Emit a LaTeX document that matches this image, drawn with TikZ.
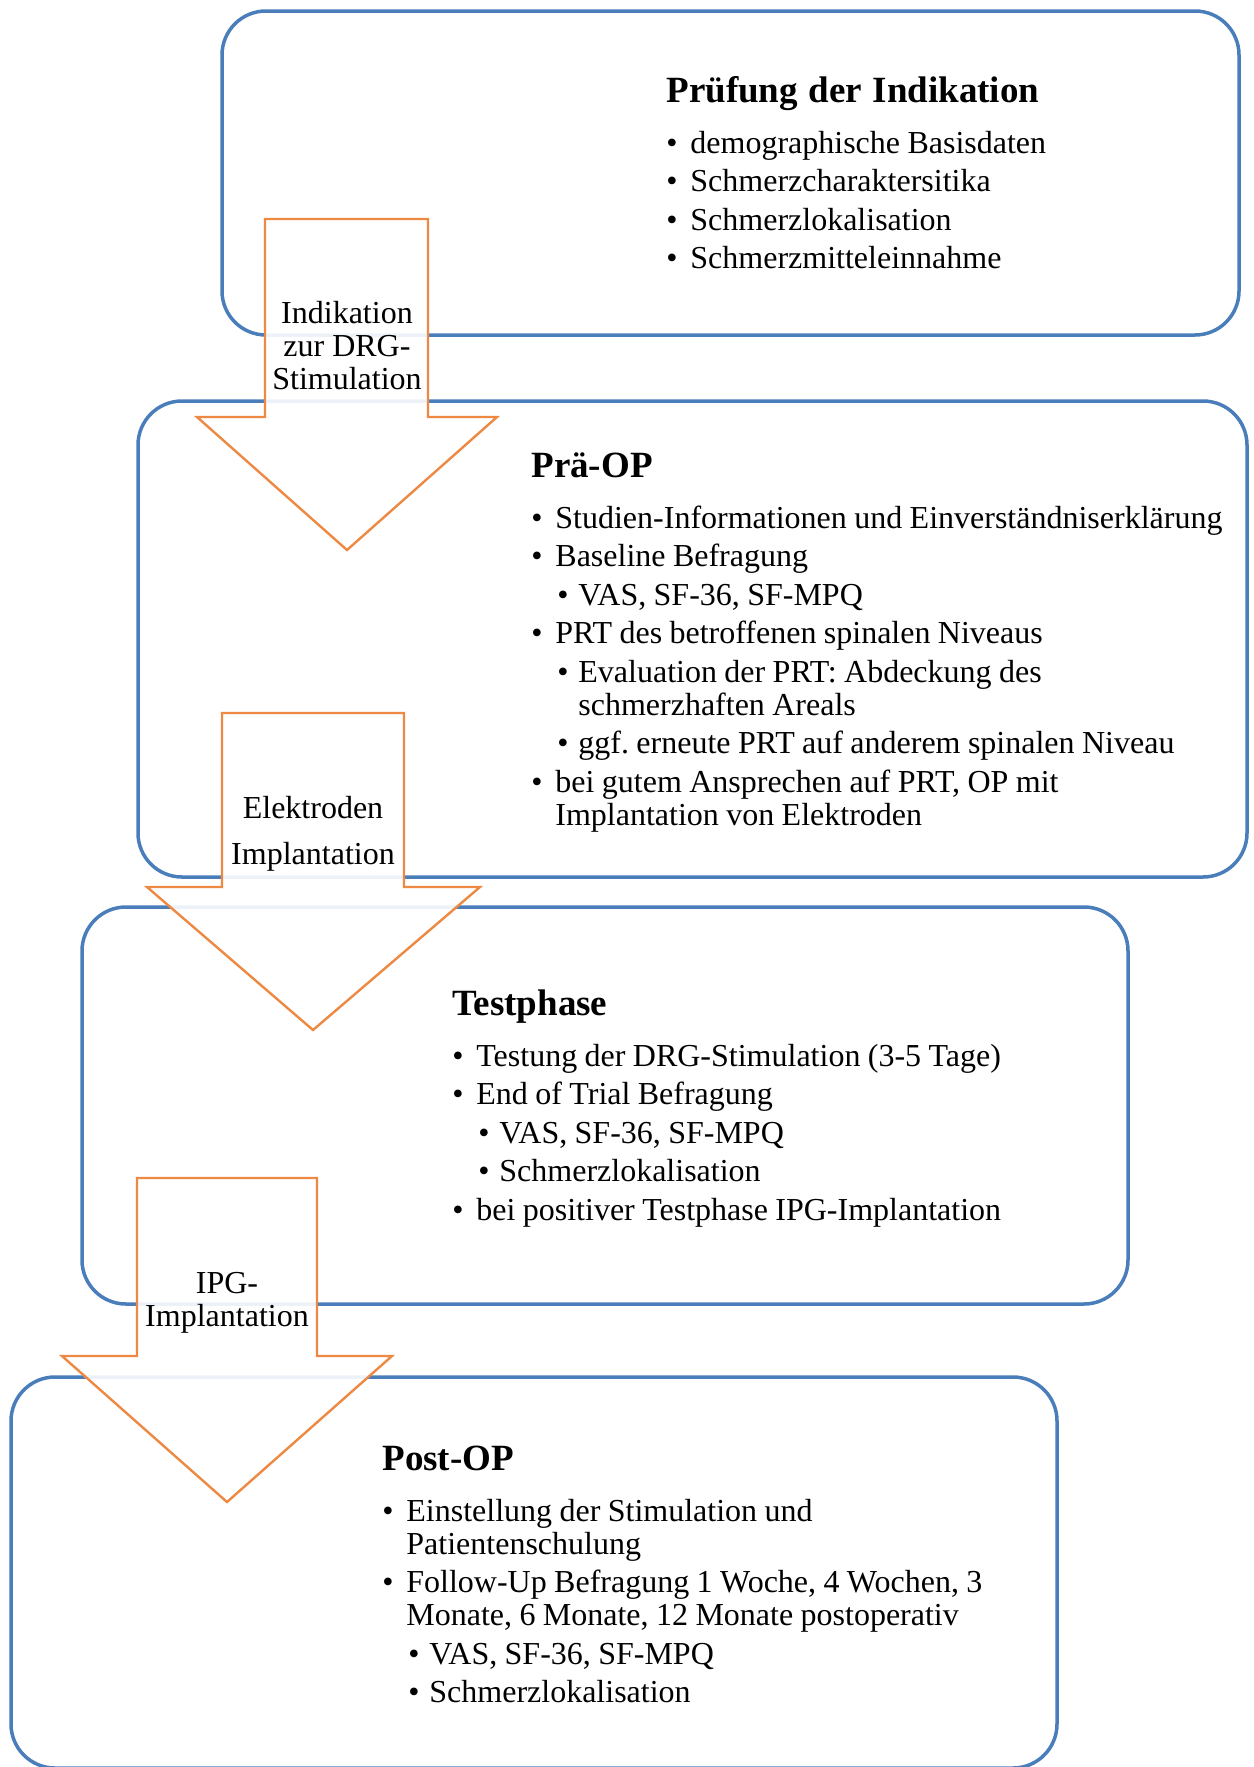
\documentclass[tikz,border=0pt]{standalone}
\usepackage{fontspec}
\setmainfont{Liberation Serif}
\usepackage{enumitem}
\usetikzlibrary{positioning, fit}

\definecolor{boxblue}{RGB}{74,126,187}
\definecolor{arrorange}{RGB}{237,137,66}

\frenchspacing
\setlength{\parindent}{0pt}
\setlength{\parskip}{0pt}
\setlist[itemize,1]{label=\textbullet, leftmargin=12pt, labelwidth=12pt, labelsep=0pt, align=left, topsep=9pt, partopsep=0pt, itemsep=2.75pt, parsep=0pt, before={\spaceskip=3.7pt\relax}}
\setlist[itemize,2]{label=\textbullet, leftmargin=11.5pt, labelwidth=10.5pt, labelsep=0pt, align=left, topsep=2.75pt, partopsep=0pt, itemsep=2.75pt, parsep=0pt, before={\spaceskip=3.7pt\relax}}

\newcommand{\phasetitle}[1]{{\fontsize{18.5pt}{20pt}\selectfont\bfseries #1\par}}
\newcommand{\bodyfont}{\fontsize{16pt}{16.5pt}\selectfont}
% block arrow: shaft left, shaft right, top, head y, head left, head right, tip x, tip y
\newcommand{\flowarrow}[8]{%
    \draw[flow] (#1,#3) -- (#2,#3) -- (#2,#4) -- (#6,#4) -- (#7,#8) -- (#5,#4) -- (#1,#4) -- cycle;}

\begin{document}
\begin{tikzpicture}[x=0.5pt, y=-0.5pt,
    phase/.style={draw=boxblue, line width=1.75pt, rounded corners=22pt, inner sep=0pt},
    flow/.style={draw=arrorange, line width=1.2pt, fill=white, fill opacity=0.9, line join=miter},
    txt/.style={anchor=base west, inner sep=0pt, font=\bodyfont},
    lbl/.style={anchor=base, inner sep=0pt, align=center, font=\bodyfont}
]
    \useasboundingbox (0,0) rectangle (1253,1767);

    % phase boxes
    \node [phase, fit={(222,11) (1239,335)}] (indik) {};
    \node [phase, fit={(138,401) (1247,877)}] (praeop) {};
    \node [phase, fit={(82,907) (1128,1304)}] (test) {};
    \node [phase, fit={(11,1377) (1057,1768)}] (postop) {};

    % box contents
    \node [txt, text width=340pt] (indiktxt) at (666,102) {\phasetitle{Prüfung der Indikation}
        \begin{itemize}
            \item demographische Basisdaten
            \item Schmerzcharaktersitika
            \item Schmerzlokalisation
            \item Schmerzmitteleinnahme
        \end{itemize}};
    \node [txt, text width=360pt] (praeoptxt) at (531,477) {\phasetitle{Prä-OP}
        \begin{itemize}
            \item Studien-Informationen und Einverständniserklärung
            \item Baseline Befragung
            \begin{itemize}
                \item VAS, SF-36, SF-MPQ
            \end{itemize}
            \item PRT des betroffenen spinalen Niveaus
            \begin{itemize}
                \item Evaluation der PRT: Abdeckung des\\schmerzhaften Areals
                \item ggf. erneute PRT auf anderem spinalen Niveau
            \end{itemize}
            \item bei gutem Ansprechen auf PRT, OP mit\\Implantation von Elektroden
        \end{itemize}};
    \node [txt, text width=330pt] (testtxt) at (452,1015) {\phasetitle{Testphase}
        \begin{itemize}
            \item Testung der DRG-Stimulation (3-5 Tage)
            \item End of Trial Befragung
            \begin{itemize}
                \item VAS, SF-36, SF-MPQ
                \item Schmerzlokalisation
            \end{itemize}
            \item bei positiver Testphase IPG-Implantation
        \end{itemize}};
    \node [txt, text width=330pt] (postoptxt) at (382,1470) {\phasetitle{Post-OP}
        \begin{itemize}
            \item Einstellung der Stimulation und\\Patientenschulung
            \item Follow-Up Befragung 1 Woche, 4 Wochen, 3\\Monate, 6 Monate, 12 Monate postoperativ
            \begin{itemize}
                \item VAS, SF-36, SF-MPQ
                \item Schmerzlokalisation
            \end{itemize}
        \end{itemize}};

    % transition arrows
    \flowarrow{265}{428}{219}{417}{197}{497}{347}{550}
    \flowarrow{222}{404}{713}{887}{147}{480}{313}{1030}
    \flowarrow{137}{317}{1178}{1356}{62}{392}{227}{1502}

    \node [lbl] (lblindik) at (347,389) {Indikation\\zur DRG-\\Stimulation};
    \node [lbl] (lblelek) at (313,864) {Elektroden\\[6.5pt]Implantation};
    \node [lbl] (lblipg) at (227,1326) {IPG-\\Implantation};
\end{tikzpicture}
\end{document}
